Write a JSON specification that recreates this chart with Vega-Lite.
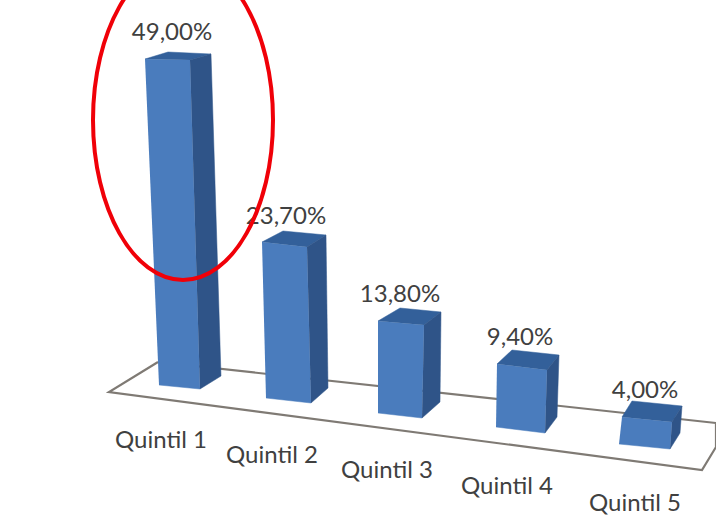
{"$schema":"https://vega.github.io/schema/vega-lite/v6.json","width":716,"height":519,"padding":0,"autosize":{"type":"none"},"background":"white","config":{"view":{"stroke":null}},
"datasets":{
"floor":[{"c":1,"x":1.58,"y":23.55},{"c":2,"x":7.16,"y":14.4},{"c":3,"x":7.16,"y":10.8},{"c":4,"x":7.02,"y":7.35},{"c":5,"x":1.09,"y":19.05},{"c":6,"x":1.58,"y":23.55}],
"faces":[
{"q":"Quintil 1","face":"front","c":1,"x":1.45,"y":69.0},{"q":"Quintil 1","face":"front","c":2,"x":1.90,"y":68.85},{"q":"Quintil 1","face":"front","c":3,"x":2.00,"y":19.5},{"q":"Quintil 1","face":"front","c":4,"x":1.59,"y":20.1},
{"q":"Quintil 1","face":"top","c":1,"x":1.45,"y":69.0},{"q":"Quintil 1","face":"top","c":2,"x":1.68,"y":70.05},{"q":"Quintil 1","face":"top","c":3,"x":2.11,"y":69.75},{"q":"Quintil 1","face":"top","c":4,"x":1.90,"y":68.85},
{"q":"Quintil 1","face":"side","c":1,"x":1.90,"y":68.85},{"q":"Quintil 1","face":"side","c":2,"x":2.11,"y":69.75},{"q":"Quintil 1","face":"side","c":3,"x":2.21,"y":21.45},{"q":"Quintil 1","face":"side","c":4,"x":2.00,"y":19.5},
{"q":"Quintil 2","face":"front","c":1,"x":2.62,"y":41.55},{"q":"Quintil 2","face":"front","c":2,"x":3.07,"y":40.8},{"q":"Quintil 2","face":"front","c":3,"x":3.11,"y":17.4},{"q":"Quintil 2","face":"front","c":4,"x":2.66,"y":18.15},
{"q":"Quintil 2","face":"top","c":1,"x":2.62,"y":41.55},{"q":"Quintil 2","face":"top","c":2,"x":2.83,"y":43.2},{"q":"Quintil 2","face":"top","c":3,"x":3.26,"y":42.6},{"q":"Quintil 2","face":"top","c":4,"x":3.07,"y":40.8},
{"q":"Quintil 2","face":"side","c":1,"x":3.07,"y":40.8},{"q":"Quintil 2","face":"side","c":2,"x":3.26,"y":42.6},{"q":"Quintil 2","face":"side","c":3,"x":3.28,"y":19.65},{"q":"Quintil 2","face":"side","c":4,"x":3.11,"y":17.4},
{"q":"Quintil 3","face":"front","c":1,"x":3.78,"y":29.7},{"q":"Quintil 3","face":"front","c":2,"x":4.24,"y":29.1},{"q":"Quintil 3","face":"front","c":3,"x":4.22,"y":15.15},{"q":"Quintil 3","face":"front","c":4,"x":3.78,"y":15.9},
{"q":"Quintil 3","face":"top","c":1,"x":3.78,"y":29.7},{"q":"Quintil 3","face":"top","c":2,"x":4.00,"y":31.65},{"q":"Quintil 3","face":"top","c":3,"x":4.41,"y":31.05},{"q":"Quintil 3","face":"top","c":4,"x":4.24,"y":29.1},
{"q":"Quintil 3","face":"side","c":1,"x":4.24,"y":29.1},{"q":"Quintil 3","face":"side","c":2,"x":4.41,"y":31.05},{"q":"Quintil 3","face":"side","c":3,"x":4.40,"y":17.55},{"q":"Quintil 3","face":"side","c":4,"x":4.22,"y":15.15},
{"q":"Quintil 4","face":"front","c":1,"x":4.97,"y":23.25},{"q":"Quintil 4","face":"front","c":2,"x":5.47,"y":22.35},{"q":"Quintil 4","face":"front","c":3,"x":5.45,"y":12.9},{"q":"Quintil 4","face":"front","c":4,"x":4.96,"y":13.8},
{"q":"Quintil 4","face":"top","c":1,"x":4.97,"y":23.25},{"q":"Quintil 4","face":"top","c":2,"x":5.12,"y":25.35},{"q":"Quintil 4","face":"top","c":3,"x":5.59,"y":24.6},{"q":"Quintil 4","face":"top","c":4,"x":5.47,"y":22.35},
{"q":"Quintil 4","face":"side","c":1,"x":5.47,"y":22.35},{"q":"Quintil 4","face":"side","c":2,"x":5.59,"y":24.6},{"q":"Quintil 4","face":"side","c":3,"x":5.57,"y":15.3},{"q":"Quintil 4","face":"side","c":4,"x":5.45,"y":12.9},
{"q":"Quintil 5","face":"front","c":1,"x":6.22,"y":15.3},{"q":"Quintil 5","face":"front","c":2,"x":6.72,"y":14.55},{"q":"Quintil 5","face":"front","c":3,"x":6.70,"y":10.5},{"q":"Quintil 5","face":"front","c":4,"x":6.19,"y":11.25},
{"q":"Quintil 5","face":"top","c":1,"x":6.22,"y":15.3},{"q":"Quintil 5","face":"top","c":2,"x":6.32,"y":17.7},{"q":"Quintil 5","face":"top","c":3,"x":6.82,"y":16.95},{"q":"Quintil 5","face":"top","c":4,"x":6.72,"y":14.55},
{"q":"Quintil 5","face":"side","c":1,"x":6.72,"y":14.55},{"q":"Quintil 5","face":"side","c":2,"x":6.82,"y":16.95},{"q":"Quintil 5","face":"side","c":3,"x":6.80,"y":12.9},{"q":"Quintil 5","face":"side","c":4,"x":6.70,"y":10.5}
],
"bars":[
{"quintil":"Quintil 1","valor":49.0,"label":"49,00%","vx":1.72,"vy":71.85,"qx":1.61,"qy":10.65},
{"quintil":"Quintil 2","valor":23.7,"label":"23,70%","vx":2.86,"vy":44.25,"qx":2.72,"qy":8.4},
{"quintil":"Quintil 3","valor":13.8,"label":"13,80%","vx":4.00,"vy":32.55,"qx":3.87,"qy":6.15},
{"quintil":"Quintil 4","valor":9.4,"label":"9,40%","vx":5.20,"vy":26.1,"qx":5.07,"qy":3.75},
{"quintil":"Quintil 5","valor":4.0,"label":"4,00%","vx":6.45,"vy":18.15,"qx":6.35,"qy":1.2}
],
"mark":[{"x":1.83,"y":59.85}]
},
"layer":[
{"data":{"name":"floor"},"mark":{"type":"line","stroke":"#7f7a74","strokeWidth":2.2},"encoding":{"x":{"field":"x","type":"quantitative","scale":{"domain":[0,7.16],"nice":false,"zero":false},"axis":null},"y":{"field":"y","type":"quantitative","scale":{"domain":[0,77.85],"nice":false,"zero":false},"axis":null},"order":{"field":"c"}}},
{"data":{"name":"faces"},"mark":{"type":"line","strokeWidth":0.5},"encoding":{"x":{"field":"x","type":"quantitative","scale":{"domain":[0,7.16],"nice":false,"zero":false},"axis":null},"y":{"field":"y","type":"quantitative","scale":{"domain":[0,77.85],"nice":false,"zero":false},"axis":null},"order":{"field":"c"},"detail":{"field":"q"},"fill":{"field":"face","type":"nominal","legend":null,"scale":{"domain":["front","top","side"],"range":["#4a7cbd","#33609a","#2f5488"]}},"stroke":{"field":"face","type":"nominal","legend":null,"scale":{"domain":["front","top","side"],"range":["#4a7cbd","#33609a","#2f5488"]}}}},
{"data":{"name":"bars"},"mark":{"type":"text","font":"Lato","fontSize":24,"fill":"#404040","align":"center","baseline":"alphabetic"},"encoding":{"x":{"field":"vx","type":"quantitative","scale":{"domain":[0,7.16],"nice":false,"zero":false},"axis":null},"y":{"field":"vy","type":"quantitative","scale":{"domain":[0,77.85],"nice":false,"zero":false},"axis":null},"text":{"field":"label"}}},
{"data":{"name":"bars"},"mark":{"type":"text","font":"Lato","fontSize":24,"fill":"#404040","align":"center","baseline":"alphabetic"},"encoding":{"x":{"field":"qx","type":"quantitative","scale":{"domain":[0,7.16],"nice":false,"zero":false},"axis":null},"y":{"field":"qy","type":"quantitative","scale":{"domain":[0,77.85],"nice":false,"zero":false},"axis":null},"text":{"field":"quintil"}}},
{"data":{"name":"mark"},"mark":{"type":"point","shape":"M -0.9 0 A 0.9 1.6 0 1 1 0.9 0 A 0.9 1.6 0 1 1 -0.9 0 Z","size":40000,"filled":false,"stroke":"#f00008","strokeWidth":4,"opacity":1},"encoding":{"x":{"field":"x","type":"quantitative","scale":{"domain":[0,7.16],"nice":false,"zero":false},"axis":null},"y":{"field":"y","type":"quantitative","scale":{"domain":[0,77.85],"nice":false,"zero":false},"axis":null}}}
]}
